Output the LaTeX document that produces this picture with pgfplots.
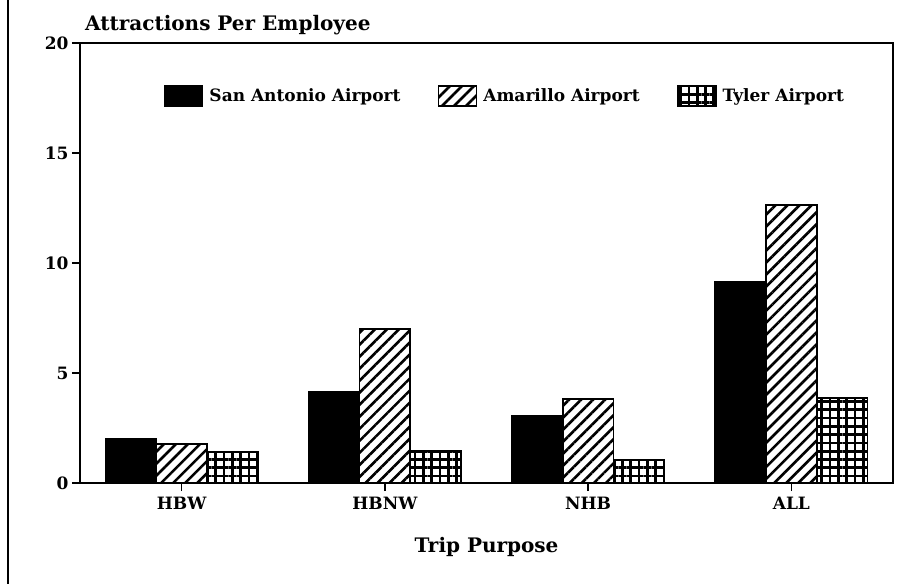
\documentclass[border=0pt]{standalone}
\usepackage{pgfplots}
\pgfplotsset{compat=1.18}
\usepackage{fontspec}
\setmainfont{DejaVu Serif}
\usetikzlibrary{patterns.meta}
\pgfplotsset{myleg/.style={legend image code/.code={\draw[##1] (0pt,-10pt) rectangle (38pt,10pt);}}}
\begin{document}
\begin{tikzpicture}[x=1pt,y=1pt]
\useasboundingbox (0,0) rectangle (914,584);
\draw[line width=2pt] (8,0) -- (8,584);
\begin{axis}[
  at={(80pt,101pt)}, anchor=south west,
  width=813pt, height=440pt, scale only axis,
  xmin=-0.5, xmax=3.5, ymin=0, ymax=20,
  ybar=0pt, bar width=0.25,
  xtick={0,1,2,3}, xticklabels={HBW,HBNW,NHB,ALL},
  ytick={0,5,10,15,20},
  xtick pos=bottom, ytick pos=left,
  tick align=outside, major tick length=8pt,
  tick style={line width=1.5pt, black},
  axis line style={line width=1.8pt},
  /pgf/number format/assume math mode=true,
  ticklabel style={font=\bfseries\fontsize{17}{17}\selectfont},
  xticklabel style={yshift=-3pt},
  xlabel={Trip Purpose},
  xlabel style={font=\bfseries\fontsize{20}{20}\selectfont, at={(axis description cs:0.5,0)}, anchor=north, yshift=-51pt},
  legend columns=3,
  legend style={draw=none, fill=none, at={(0.099,0.88)}, anchor=west,
    font=\bfseries\fontsize{17}{17}\selectfont,
    /tikz/every odd column/.append style={column sep=4pt},
    /tikz/every even column/.append style={column sep=35pt}},
]
\addplot[fill=black, draw=black, line width=1.8pt, myleg]
  coordinates {(0,2.0) (1,4.15) (2,3.05) (3,9.15)};
\addplot[draw=black, line width=1.8pt, pattern={Lines[angle=45,distance=8.5pt,line width=2.6pt]}, myleg]
  coordinates {(0,1.76) (1,7.0) (2,3.8) (3,12.65)};
\addplot[draw=black, line width=1.8pt, pattern={Hatch[angle=0,distance=8.3pt,line width=2.7pt]}, myleg]
  coordinates {(0,1.4) (1,1.45) (2,1.05) (3,3.85)};
\legend{San Antonio Airport, Amarillo Airport, Tyler Airport}
\end{axis}
\node[anchor=base west, font=\bfseries\fontsize{20}{20}\selectfont, inner sep=0pt] at (85,553) {Attractions Per Employee};
\end{tikzpicture}
\end{document}
